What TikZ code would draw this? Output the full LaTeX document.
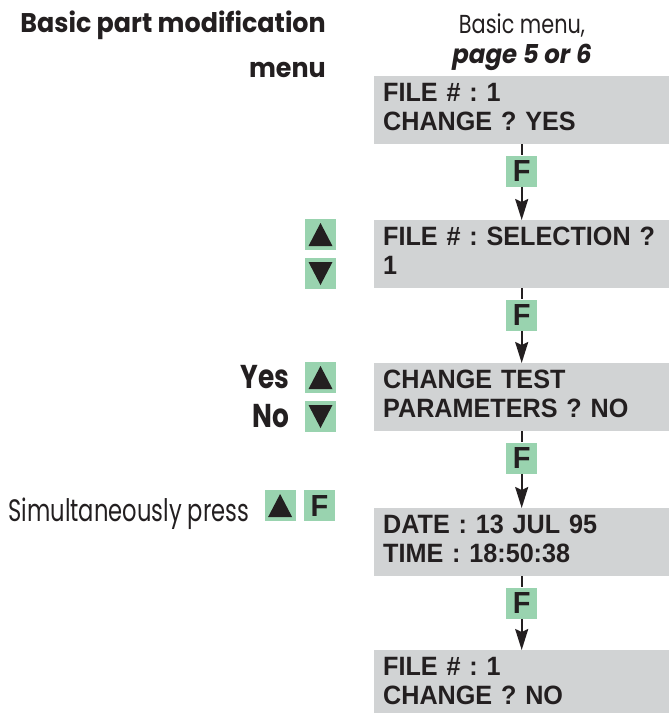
\documentclass[tikz,border=0pt]{standalone}
\usepackage{fontspec}
\setmainfont{Poppins}
\newfontfamily\lcdfont[FakeStretch=0.95]{Liberation Sans}
\newfontfamily\headfont[FakeStretch=0.94]{Poppins}
\newfontfamily\menufont[FakeStretch=0.8]{Poppins}
\newfontfamily\pressfont[FakeStretch=0.73]{Poppins}
\usetikzlibrary{arrows.meta, positioning}
\definecolor{lcd}{HTML}{D1D3D4}
\definecolor{keygreen}{HTML}{99D3AF}
\definecolor{ink}{HTML}{231F20}
\frenchspacing

\begin{document}
\begin{tikzpicture}[x=1pt, y=-1pt,
    screen/.style={fill=lcd, anchor=north west, minimum width=295pt, minimum height=68pt,
      text width=277pt, inner xsep=9pt, inner ysep=0pt, align=left, text=ink,
      font=\lcdfont\bfseries\fontsize{26.5}{29}\selectfont,
      execute at end node={\rule[-6pt]{0pt}{6pt}}},
    key/.style={fill=keygreen, minimum size=31pt, inner sep=0pt, text=ink},
    fkey/.style={key, font=\lcdfont\bfseries\fontsize{30.5}{30.5}\selectfont},
    upkey/.style={key, path picture={\fill[ink] ([shift={(3.5pt,4pt)}]path picture bounding box.south west)
      -- ++(24pt,0pt) -- ++(-12pt,23pt) -- cycle;}},
    downkey/.style={key, path picture={\fill[ink] ([shift={(3.5pt,-4pt)}]path picture bounding box.north west)
      -- ++(24pt,0pt) -- ++(-12pt,-23pt) -- cycle;}},
    label/.style={text=ink, inner sep=0pt},
    wire/.style={line width=2pt, draw=ink},
    arr/.style={wire, -{Stealth[length=21pt, width=13pt, inset=3pt]}}]
  \useasboundingbox (0,0) rectangle (669,713);

  % heading
  \node[label, anchor=base east, font=\headfont\bfseries\fontsize{27}{27}\selectfont] (title) at (326,32) {Basic part modification};
  \node[label, anchor=base east, font=\headfont\bfseries\fontsize{27}{27}\selectfont] (titlemenu) at (326,77) {menu};
  \node[label, anchor=base, font=\menufont\fontsize{26}{26}\selectfont] (from) at (522,33) {Basic menu,};
  \node[label, anchor=base, font=\headfont\bfseries\itshape\fontsize{26}{26}\selectfont] (frompage) at (522,63) {page 5 or 6};

  % screens
  \node[screen] (s1) at (374,76) {FILE \# : 1\\CHANGE ? YES};
  \node[screen] (s2) at (374,220) {FILE \# : SELECTION ?\\1};
  \node[screen] (s3) at (374,363) {CHANGE TEST\\PARAMETERS ? NO};
  \node[screen] (s4) at (374,508) {DATE : 13 JUL 95\\TIME : 18:50:38};
  \node[screen] (s5) at (374,650) {FILE \# : 1\\CHANGE ? NO};

  % F keys between screens
  \node[fkey, below=11pt of s1] (f1) {F};
  \node[fkey, below=11pt of s2] (f2) {F};
  \node[fkey, below=11pt of s3] (f3) {F};
  \node[fkey, below=11pt of s4] (f4) {F};

  \draw[wire] (s1) -- (f1);
  \draw[arr] (f1) -- (s2);
  \draw[wire] (s2) -- (f2);
  \draw[arr] (f2) -- (s3);
  \draw[wire] (s3) -- (f3);
  \draw[arr] (f3) -- (s4);
  \draw[wire] (s4) -- (f4);
  \draw[arr] (f4) -- (s5);

  % keys on the left
  \node[upkey] (selup) at (320.5,234.5) {};
  \node[downkey] (seldown) at (320.5,273.5) {};
  \node[upkey] (yeskey) at (320.5,377.5) {};
  \node[downkey] (nokey) at (320.5,416.5) {};
  \node[label, left=15pt of yeskey, font=\menufont\bfseries\fontsize{33}{33}\selectfont] (yes) {Yes};
  \node[label, left=15pt of nokey, font=\menufont\bfseries\fontsize{33}{33}\selectfont] (no) {No};

  \node[fkey] (pressf) at (319.5,505.5) {F};
  \node[upkey, left=8pt of pressf] (pressup) {};
  \node[label, left=15pt of pressup.south west, anchor=base east, font=\pressfont\fontsize{31}{31}\selectfont] (press) {Simultaneously press};
\end{tikzpicture}
\end{document}
